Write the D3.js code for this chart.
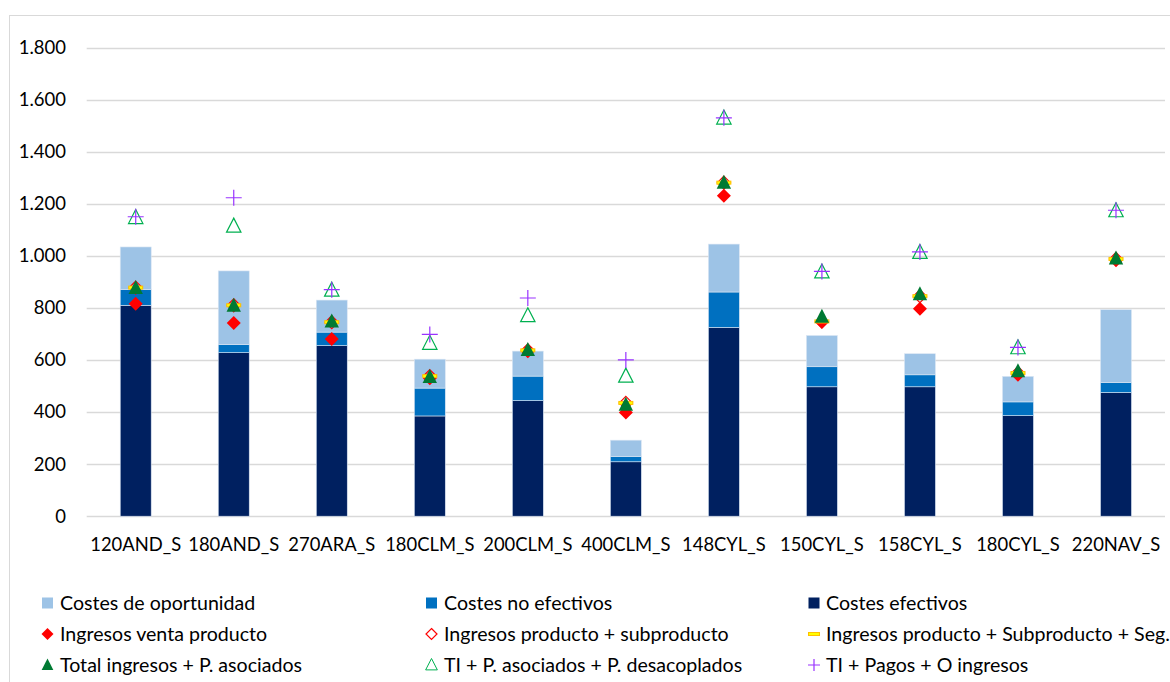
<!DOCTYPE html>
<html><head><meta charset="utf-8">
<script src="https://cdn.jsdelivr.net/npm/d3@7"></script>
<style>
html,body{margin:0;padding:0;background:#fff;}
svg{display:block;font-family:Lato,"Open Sans",sans-serif;}
</style></head>
<body>
<svg id="chart" width="1170" height="682"></svg>
<script>
const categories = ["120AND_S","180AND_S","270ARA_S","180CLM_S","200CLM_S","400CLM_S","148CYL_S","150CYL_S","158CYL_S","180CYL_S","220NAV_S"];
const costesEfectivos   = [810, 628, 655, 385, 444, 209, 725, 497, 497, 386, 475];
const costesNoEfectivos = [61, 31, 52, 107, 94, 20, 136, 77, 46, 53, 38];
const costesOportunidad = [163, 283, 123, 111, 96, 63, 184, 120, 81, 98, 280];
const ingresosVenta     = [816, 742, 681, 530, 633, 398, 1231, 746, 797, 543, 983];
const ingresosProdSub   = [878, 810, 745, 538, 637, 435, 1281, 748, 845, 550, 988];
const ingresosProdSubSeg= [878, 810, 745, 538, 637, 435, 1281, 748, 845, 550, 988];
const totalIngAsoc      = [876, 808, 748, 535, 638, 428, 1281, 766, 852, 557, 990];
const tiAsocDesac       = [1147, 1114, 868, 664, 770, 538, 1529, 938, 1013, 647, 1173];
const tiPagosOtros      = [1150, 1223, 870, 698, 838, 600, 1530, 940, 1015, 648, 1175];
const yTicks = [0, 200, 400, 600, 800, 1000, 1200, 1400, 1600, 1800];

const svg = d3.select("#chart");
const x = d3.scaleBand().domain(categories).range([86.7, 1165]).paddingInner(0.684).paddingOuter(0.342);
const y = d3.scaleLinear().domain([0, 1800]).range([516.2, 47.5]);

// outer border
svg.append("rect").attr("x", 9.5).attr("y", 15.5).attr("width", 1170).attr("height", 700)
  .attr("fill", "none").attr("stroke", "#d9d9d9").attr("stroke-width", 1);

// grid
svg.append("g").selectAll("line").data(yTicks).join("line")
  .attr("x1", 86.7).attr("x2", 1165)
  .attr("y1", d => Math.round(y(d)) + 0.5).attr("y2", d => Math.round(y(d)) + 0.5)
  .attr("stroke", "#d9d9d9").attr("stroke-width", 1.3);

// y axis labels
const fmt = d => d3.format(",")(d).replace(/,/g, ".");
const yAxis = d3.axisLeft(y).tickValues(yTicks).tickFormat(fmt).tickSize(0).tickPadding(0);
const gy = svg.append("g").attr("transform", "translate(66,0)").call(yAxis);
gy.select(".domain").remove();
gy.selectAll("text").attr("font-size", 18.5).attr("fill", "#000").attr("font-family", "Lato");

// x axis labels
const xAxis = d3.axisBottom(x).tickSize(0).tickPadding(0);
const gx = svg.append("g").attr("transform", "translate(0,537)").call(xAxis);
gx.select(".domain").remove();
gx.selectAll("text").attr("font-size", 18.4).attr("fill", "#000").attr("font-family", "Lato").attr("dy", "0.75em");

// stacked bars
const stackData = categories.map((c, i) => ({cat: c, ef: costesEfectivos[i], ne: costesNoEfectivos[i], op: costesOportunidad[i]}));
const stack = d3.stack().keys(["ef", "ne", "op"])(stackData);
const colors = {ef: "#002060", ne: "#0070C0", op: "#9DC3E6"};
svg.append("g").selectAll("g").data(stack).join("g")
  .attr("fill", s => colors[s.key])
  .selectAll("rect").data(s => s).join("rect")
  .attr("x", d => x(d.data.cat)).attr("width", x.bandwidth())
  .attr("y", d => y(d[1])).attr("height", d => y(d[0]) - y(d[1]))
  .attr("stroke", "#dbe6f3").attr("stroke-width", 0.6);

const cx = c => x(c) + x.bandwidth() / 2;
const diamond = s => `M0,${-s}L${s},0L0,${s}L${-s},0Z`;
const tri = s => `M0,${-s}L${s*0.9},${s*0.75}L${-s*0.9},${s*0.75}Z`;

function markers(vals, drawFn) {
  const g = svg.append("g");
  categories.forEach((c, i) => {
    const m = g.append("g").attr("transform", `translate(${cx(c)},${y(vals[i])})`);
    drawFn(m);
  });
}
const drawVenta = m => m.append("path").attr("d", diamond(7)).attr("fill", "#FF0000");
const drawProdSub = m => m.append("path").attr("d", diamond(6.5)).attr("fill", "none").attr("stroke", "#FF0000").attr("stroke-width", 1.2);
const drawSeg = m => m.append("rect").attr("x", -7).attr("y", -1.5).attr("width", 14).attr("height", 3).attr("fill", "#FFFF00").attr("stroke", "#FFC000").attr("stroke-width", 1);
const drawTotal = m => m.append("path").attr("d", tri(8)).attr("fill", "#007A33");
const drawDesac = m => m.append("path").attr("d", tri(8)).attr("fill", "none").attr("stroke", "#00B050").attr("stroke-width", 1.2);
const drawPagos = m => { m.append("path").attr("d", "M-8,0H8M0,-8V8").attr("stroke", "#9933FF").attr("stroke-width", 1.2).attr("fill", "none"); };

markers(ingresosVenta, drawVenta);
markers(ingresosProdSub, drawProdSub);
markers(ingresosProdSubSeg, drawSeg);
markers(totalIngAsoc, drawTotal);
markers(tiAsocDesac, drawDesac);
markers(tiPagosOtros, drawPagos);

// legend
const legendItems = [
  {label: "Costes de oportunidad", col: 0, row: 0, draw: m => m.append("rect").attr("x", -5.5).attr("y", -5.5).attr("width", 11).attr("height", 11).attr("fill", "#9DC3E6")},
  {label: "Costes no efectivos", col: 1, row: 0, draw: m => m.append("rect").attr("x", -5.5).attr("y", -5.5).attr("width", 11).attr("height", 11).attr("fill", "#0070C0")},
  {label: "Costes efectivos", col: 2, row: 0, draw: m => m.append("rect").attr("x", -5.5).attr("y", -5.5).attr("width", 11).attr("height", 11).attr("fill", "#002060")},
  {label: "Ingresos venta producto", col: 0, row: 1, draw: m => m.append("path").attr("d", diamond(6)).attr("fill", "#FF0000")},
  {label: "Ingresos producto + subproducto", col: 1, row: 1, draw: m => m.append("path").attr("d", diamond(5.5)).attr("fill", "none").attr("stroke", "#FF0000").attr("stroke-width", 1.2)},
  {label: "Ingresos producto + Subproducto + Seg.", col: 2, row: 1, draw: m => m.append("rect").attr("x", -5.5).attr("y", -1.5).attr("width", 11).attr("height", 3).attr("fill", "#FFFF00").attr("stroke", "#FFC000").attr("stroke-width", 1)},
  {label: "Total ingresos + P. asociados", col: 0, row: 2, draw: m => m.append("path").attr("d", tri(6.5)).attr("fill", "#007A33")},
  {label: "TI + P. asociados + P. desacoplados", col: 1, row: 2, draw: m => m.append("path").attr("d", tri(6.5)).attr("fill", "none").attr("stroke", "#00B050").attr("stroke-width", 1)},
  {label: "TI + Pagos + O ingresos", col: 2, row: 2, draw: m => m.append("path").attr("d", "M-6,0H6M0,-6V6").attr("stroke", "#9933FF").attr("stroke-width", 1.2)}
];
const colMarkerX = [47.5, 431.5, 814];
const colTextX = [60, 444, 826];
const rowY = [603, 634, 665];
const lg = svg.append("g");
legendItems.forEach(it => {
  const m = lg.append("g").attr("transform", `translate(${colMarkerX[it.col]},${rowY[it.row]})`);
  it.draw(m);
  lg.append("text").attr("x", colTextX[it.col]).attr("y", rowY[it.row]).attr("dy", "0.35em")
    .attr("font-size", 19.6).attr("font-family", "Lato").attr("fill", "#000").text(it.label);
});
</script>
</body></html>
